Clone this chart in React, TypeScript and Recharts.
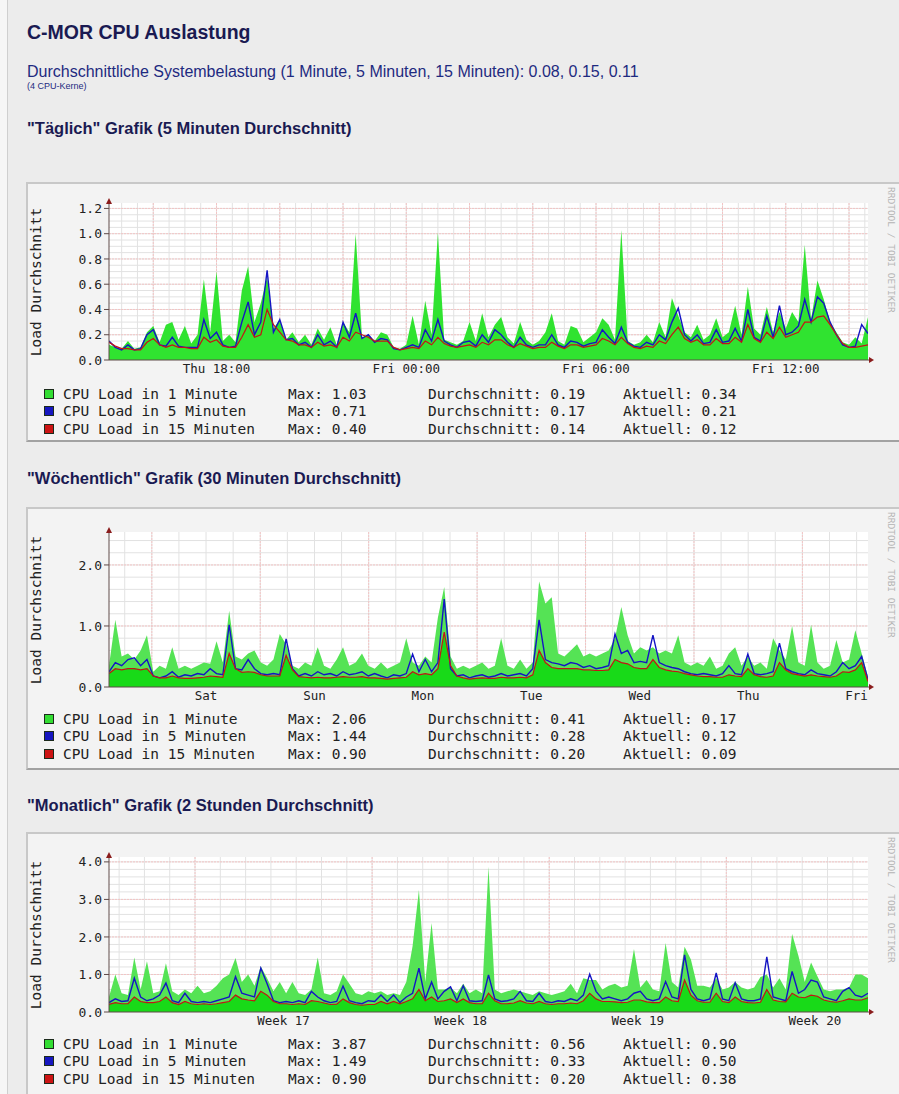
import React from "react"
import { ComposedChart, Area, Line, XAxis, YAxis, CartesianGrid, ReferenceDot } from "recharts"

const mono = '"DejaVu Sans Mono", monospace'
const sans = '"Liberation Sans", Arial, sans-serif'

const seriesNames = ["CPU Load in 1 Minute", "CPU Load in 5 Minuten", "CPU Load in 15 Minuten"]
const seriesColors = ["#33dd33", "#1616c0", "#cc1414"]

// Täglich: Stunden ab Do 00:00, 12-Minuten-Schritte
const dayStart = 14.6
const dayStep = 0.2
const dayLoad1 = [
  0.12, 0.10, 0.09, 0.15, 0.09, 0.10, 0.22, 0.27, 0.14, 0.28,
  0.30, 0.16, 0.27, 0.13, 0.20, 0.64, 0.22, 0.70, 0.15, 0.20,
  0.14, 0.55, 0.74, 0.30, 0.45, 0.66, 0.25, 0.32, 0.16, 0.22,
  0.14, 0.20, 0.12, 0.25, 0.16, 0.26, 0.12, 0.30, 0.22, 1.00,
  0.18, 0.20, 0.15, 0.22, 0.20, 0.10, 0.09, 0.12, 0.35, 0.12,
  0.47, 0.20, 1.01, 0.16, 0.14, 0.12, 0.15, 0.30, 0.15, 0.37,
  0.18, 0.28, 0.34, 0.18, 0.13, 0.30, 0.16, 0.12, 0.15, 0.22,
  0.37, 0.15, 0.12, 0.27, 0.25, 0.14, 0.18, 0.22, 0.33, 0.28,
  0.16, 1.03, 0.15, 0.12, 0.14, 0.20, 0.14, 0.30, 0.18, 0.49,
  0.35, 0.22, 0.18, 0.28, 0.16, 0.20, 0.33, 0.18, 0.22, 0.43,
  0.20, 0.58, 0.25, 0.20, 0.42, 0.22, 0.38, 0.25, 0.38, 0.30,
  0.91, 0.32, 0.63, 0.48, 0.30, 0.22, 0.14, 0.12, 0.18, 0.13,
  0.34,
]
const dayLoad5 = [
  0.15, 0.10, 0.08, 0.12, 0.08, 0.09, 0.20, 0.24, 0.12, 0.11,
  0.18, 0.11, 0.10, 0.10, 0.10, 0.32, 0.17, 0.22, 0.12, 0.10,
  0.11, 0.30, 0.46, 0.20, 0.30, 0.71, 0.22, 0.32, 0.16, 0.17,
  0.12, 0.14, 0.10, 0.20, 0.12, 0.15, 0.10, 0.30, 0.18, 0.37,
  0.17, 0.20, 0.14, 0.17, 0.16, 0.09, 0.08, 0.10, 0.12, 0.10,
  0.24, 0.15, 0.32, 0.15, 0.12, 0.10, 0.14, 0.15, 0.11, 0.20,
  0.14, 0.24, 0.20, 0.14, 0.10, 0.18, 0.12, 0.10, 0.12, 0.12,
  0.20, 0.12, 0.10, 0.15, 0.14, 0.11, 0.13, 0.14, 0.24, 0.18,
  0.13, 0.26, 0.14, 0.11, 0.10, 0.14, 0.12, 0.20, 0.16, 0.30,
  0.41, 0.20, 0.15, 0.20, 0.13, 0.14, 0.24, 0.14, 0.15, 0.25,
  0.15, 0.40, 0.18, 0.15, 0.35, 0.18, 0.43, 0.20, 0.22, 0.27,
  0.48, 0.30, 0.50, 0.45, 0.30, 0.20, 0.12, 0.10, 0.11, 0.28,
  0.21,
]
const dayLoad15 = [
  0.14, 0.11, 0.09, 0.09, 0.08, 0.08, 0.14, 0.17, 0.12, 0.10,
  0.12, 0.10, 0.10, 0.09, 0.09, 0.18, 0.14, 0.16, 0.11, 0.10,
  0.10, 0.18, 0.28, 0.18, 0.20, 0.40, 0.28, 0.22, 0.16, 0.15,
  0.12, 0.12, 0.10, 0.14, 0.11, 0.12, 0.10, 0.18, 0.15, 0.22,
  0.20, 0.18, 0.15, 0.15, 0.15, 0.10, 0.08, 0.09, 0.10, 0.09,
  0.15, 0.12, 0.18, 0.13, 0.11, 0.10, 0.11, 0.12, 0.10, 0.14,
  0.12, 0.16, 0.16, 0.12, 0.10, 0.13, 0.11, 0.09, 0.10, 0.10,
  0.14, 0.11, 0.09, 0.12, 0.12, 0.10, 0.11, 0.12, 0.17, 0.15,
  0.12, 0.18, 0.13, 0.10, 0.09, 0.11, 0.10, 0.15, 0.13, 0.20,
  0.26, 0.17, 0.14, 0.16, 0.12, 0.12, 0.17, 0.13, 0.13, 0.18,
  0.14, 0.28, 0.17, 0.14, 0.22, 0.17, 0.26, 0.18, 0.20, 0.22,
  0.30, 0.30, 0.34, 0.35, 0.28, 0.20, 0.13, 0.10, 0.10, 0.11,
  0.12,
]
const dayTicks = [18, 24, 30, 36]
const dayTickLabels = ["Thu 18:00", "Fri 00:00", "Fri 06:00", "Fri 12:00"]
const dayYTicks = [0, 0.2, 0.4, 0.6, 0.8, 1.0, 1.2]
const dayMax = ["1.03", "0.71", "0.40"]
const dayAvg = ["0.19", "0.17", "0.14"]
const dayNow = ["0.34", "0.21", "0.12"]

// Wöchentlich: Tage ab Sa 00:00, 84-Minuten-Schritte
const weekStart = -0.395
const weekStep = 7 / 120
const weekLoad1 = [
  0.35, 1.10, 0.50, 0.55, 0.45, 0.60, 0.85, 0.25, 0.35, 0.30,
  0.65, 0.30, 0.35, 0.30, 0.35, 0.40, 0.38, 0.75, 0.40, 1.25,
  0.50, 0.45, 0.55, 0.60, 0.40, 0.35, 0.45, 0.87, 0.70, 0.35,
  0.30, 0.40, 0.35, 0.65, 0.35, 0.30, 0.45, 0.65, 0.35, 0.40,
  0.55, 0.35, 0.30, 0.40, 0.30, 0.35, 0.40, 0.80, 0.40, 0.35,
  0.50, 0.40, 1.14, 1.64, 0.50, 0.30, 0.35, 0.30, 0.35, 0.40,
  0.30, 0.35, 0.80, 0.35, 0.30, 0.45, 0.30, 0.40, 1.73, 1.37,
  1.47, 0.55, 0.50, 0.60, 0.70, 0.50, 0.55, 0.50, 0.55, 0.60,
  0.80, 1.31, 0.85, 0.55, 0.65, 0.60, 0.65, 0.55, 0.60, 0.55,
  0.85, 0.40, 0.35, 0.40, 0.35, 0.50, 0.30, 0.35, 0.55, 0.65,
  0.35, 0.50, 0.35, 0.40, 0.30, 0.80, 0.60, 0.45, 1.00, 0.40,
  0.35, 1.02, 0.40, 0.30, 0.35, 0.77, 0.40, 0.45, 0.93, 0.55,
  0.17,
]
const weekLoad5 = [
  0.25, 0.40, 0.35, 0.45, 0.48, 0.35, 0.45, 0.18, 0.15, 0.18,
  0.25, 0.16, 0.20, 0.18, 0.22, 0.20, 0.30, 0.22, 0.20, 1.02,
  0.30, 0.28, 0.45, 0.30, 0.22, 0.20, 0.22, 0.20, 0.79, 0.30,
  0.18, 0.22, 0.18, 0.25, 0.20, 0.22, 0.18, 0.25, 0.20, 0.22,
  0.25, 0.18, 0.22, 0.18, 0.15, 0.20, 0.18, 0.22, 0.54, 0.25,
  0.45, 0.25, 0.40, 1.44, 0.30, 0.18, 0.20, 0.15, 0.18, 0.20,
  0.16, 0.18, 0.22, 0.18, 0.20, 0.22, 0.18, 0.30, 1.10, 0.45,
  0.40, 0.38, 0.35, 0.40, 0.38, 0.32, 0.35, 0.30, 0.32, 0.35,
  0.87, 0.55, 0.60, 0.40, 0.42, 0.40, 0.85, 0.40, 0.35, 0.32,
  0.30, 0.25, 0.22, 0.20, 0.22, 0.20, 0.18, 0.22, 0.35, 0.22,
  0.20, 0.54, 0.22, 0.20, 0.22, 0.25, 0.72, 0.30, 0.25, 0.22,
  0.20, 0.28, 0.22, 0.20, 0.18, 0.25, 0.40, 0.30, 0.35, 0.50,
  0.12,
]
const weekLoad15 = [
  0.22, 0.30, 0.28, 0.30, 0.30, 0.28, 0.30, 0.18, 0.15, 0.15,
  0.18, 0.15, 0.14, 0.14, 0.15, 0.16, 0.18, 0.17, 0.16, 0.55,
  0.30, 0.24, 0.25, 0.24, 0.20, 0.18, 0.18, 0.18, 0.52, 0.28,
  0.17, 0.16, 0.15, 0.16, 0.15, 0.15, 0.16, 0.17, 0.16, 0.16,
  0.17, 0.15, 0.15, 0.14, 0.13, 0.14, 0.15, 0.16, 0.25, 0.20,
  0.22, 0.20, 0.30, 0.90, 0.35, 0.18, 0.15, 0.13, 0.14, 0.15,
  0.14, 0.14, 0.16, 0.15, 0.15, 0.16, 0.15, 0.20, 0.60, 0.40,
  0.32, 0.30, 0.30, 0.30, 0.30, 0.28, 0.28, 0.27, 0.27, 0.28,
  0.45, 0.40, 0.38, 0.32, 0.30, 0.30, 0.45, 0.32, 0.28, 0.26,
  0.25, 0.22, 0.20, 0.18, 0.17, 0.17, 0.16, 0.16, 0.20, 0.18,
  0.17, 0.30, 0.20, 0.17, 0.16, 0.18, 0.40, 0.28, 0.22, 0.20,
  0.18, 0.20, 0.18, 0.17, 0.16, 0.18, 0.25, 0.24, 0.28, 0.40,
  0.09,
]
const weekTicks = [0.5, 1.5, 2.5, 3.5, 4.5, 5.5, 6.5]
const weekTickLabels = ["Sat", "Sun", "Mon", "Tue", "Wed", "Thu", "Fri"]
const weekYTicks = [0, 1, 2]
const weekMax = ["2.06", "1.44", "0.90"]
const weekAvg = ["0.41", "0.28", "0.20"]
const weekNow = ["0.17", "0.12", "0.09"]

// Monatlich: Tage ab Montag Woche 17, 6-Stunden-Schritte
const monthStart = -3.4
const monthStep = 0.25
const monthLoad1 = [
  0.40, 1.00, 0.50, 0.45, 1.45, 0.60, 1.35, 0.50, 0.55, 1.30,
  0.55, 0.45, 0.60, 0.50, 0.70, 0.50, 0.55, 0.70, 0.90, 1.00,
  1.44, 0.80, 1.00, 0.70, 1.21, 0.90, 0.55, 0.80, 0.50, 0.80,
  0.50, 0.45, 0.60, 1.45, 0.50, 0.45, 0.55, 1.00, 0.75, 0.50,
  0.45, 0.55, 0.50, 0.55, 0.45, 0.50, 0.45, 0.80, 1.76, 3.25,
  0.80, 2.37, 0.60, 0.60, 0.65, 0.50, 0.75, 0.50, 0.60, 0.50,
  3.87, 0.60, 0.50, 0.55, 0.60, 0.55, 0.50, 0.45, 0.55, 0.50,
  0.45, 0.50, 0.55, 0.75, 0.50, 0.90, 0.85, 0.85, 0.60, 0.70,
  0.75, 0.65, 0.70, 1.68, 0.65, 0.85, 0.60, 0.55, 1.84, 0.80,
  0.65, 1.74, 1.40, 0.70, 0.70, 0.65, 0.90, 0.60, 0.65, 0.80,
  0.65, 0.60, 0.65, 0.93, 1.00, 0.65, 0.90, 0.60, 2.08, 1.50,
  0.80, 1.32, 0.95, 0.60, 0.55, 0.60, 0.60, 0.65, 1.00, 1.00,
  0.90,
]
const monthLoad5 = [
  0.25, 0.35, 0.28, 0.30, 0.90, 0.40, 0.30, 0.35, 0.45, 0.77,
  0.30, 0.25, 0.50, 0.28, 0.25, 0.28, 0.25, 0.30, 0.35, 0.40,
  0.94, 0.50, 0.45, 0.40, 1.17, 0.75, 0.30, 0.25, 0.28, 0.25,
  0.30, 0.25, 0.55, 0.40, 0.30, 0.25, 0.28, 0.69, 0.30, 0.25,
  0.22, 0.30, 0.28, 0.45, 0.28, 0.45, 0.25, 0.40, 0.50, 1.17,
  0.35, 0.80, 0.35, 0.55, 0.67, 0.30, 0.70, 0.30, 0.28, 0.30,
  0.99, 0.35, 0.28, 0.30, 0.35, 0.55, 0.30, 0.28, 0.50, 0.28,
  0.25, 0.30, 0.28, 0.35, 0.30, 0.45, 1.01, 0.55, 0.35, 0.40,
  0.35, 0.30, 0.35, 0.50, 0.55, 0.35, 0.30, 0.35, 0.81, 0.40,
  0.35, 1.52, 0.60, 0.35, 0.30, 0.35, 1.04, 0.35, 0.30, 0.78,
  0.35, 0.30, 0.30, 0.35, 1.47, 0.40, 0.35, 0.30, 1.08, 0.50,
  0.60, 0.85, 0.80, 0.40, 0.35, 0.30, 0.55, 0.65, 0.45, 0.40,
  0.50,
]
const monthLoad15 = [
  0.20, 0.25, 0.22, 0.22, 0.40, 0.28, 0.25, 0.25, 0.28, 0.40,
  0.25, 0.20, 0.28, 0.22, 0.20, 0.22, 0.20, 0.22, 0.25, 0.28,
  0.45, 0.35, 0.32, 0.30, 0.55, 0.45, 0.28, 0.22, 0.22, 0.20,
  0.22, 0.20, 0.30, 0.28, 0.24, 0.20, 0.21, 0.35, 0.25, 0.20,
  0.18, 0.20, 0.20, 0.28, 0.22, 0.28, 0.22, 0.28, 0.35, 0.60,
  0.30, 0.40, 0.28, 0.30, 0.35, 0.25, 0.35, 0.25, 0.22, 0.22,
  0.50, 0.30, 0.22, 0.22, 0.24, 0.30, 0.24, 0.22, 0.28, 0.22,
  0.20, 0.22, 0.22, 0.24, 0.22, 0.30, 0.50, 0.35, 0.28, 0.28,
  0.27, 0.25, 0.26, 0.32, 0.32, 0.27, 0.25, 0.25, 0.40, 0.30,
  0.28, 0.85, 0.45, 0.30, 0.26, 0.26, 0.50, 0.28, 0.25, 0.40,
  0.28, 0.25, 0.24, 0.26, 0.60, 0.32, 0.28, 0.27, 0.50, 0.40,
  0.38, 0.45, 0.42, 0.32, 0.28, 0.26, 0.30, 0.35, 0.32, 0.32,
  0.38,
]
const monthTicks = [3.5, 10.5, 17.5, 24.5]
const monthTickLabels = ["Week 17", "Week 18", "Week 19", "Week 20"]
const monthYTicks = [0, 1, 2, 3, 4]
const monthMax = ["3.87", "1.49", "0.90"]
const monthAvg = ["0.56", "0.33", "0.20"]
const monthNow = ["0.90", "0.50", "0.38"]

const axisColor = "#5e4a48"
const arrowColor = "#8a1c1c"

function range(from: number, to: number, step: number) {
  const out: number[] = []
  for (let i = 0; from + i * step <= to + 1e-9; i++) out.push(Math.round((from + i * step) * 1000) / 1000)
  return out
}

const upArrow = (p: any) => (
  <path d={`M${p.cx - 3},${p.cy + 1}L${p.cx},${p.cy - 5}L${p.cx + 3},${p.cy + 1}Z`} fill={arrowColor} />
)
const rightArrow = (p: any) => (
  <g>
    <line x1={p.cx} y1={p.cy} x2={p.cx + 3} y2={p.cy} stroke={axisColor} />
    <path d={`M${p.cx + 1},${p.cy - 3}L${p.cx + 6},${p.cy}L${p.cx + 1},${p.cy + 3}Z`} fill={arrowColor} />
  </g>
)

type PanelProps = {
  top: number
  height: number
  plotTop: number
  plotHeight: number
  start: number
  step: number
  load1: number[]
  load5: number[]
  load15: number[]
  yMax: number
  yTicks: number[]
  xTicks: number[]
  xLabels: string[]
  minorX: number[]
  majorX: number[]
  minorY: number[]
  majorY: number[]
  maxes: string[]
  avgs: string[]
  nows: string[]
  twoTone?: boolean
}

function RrdPanel(props: PanelProps) {
  const { top, height, plotTop, plotHeight, start, step, load1, load5, load15, yMax } = props
  const rows = load1.map((v, i) => ({ t: start + i * step, l1: v, l5: load5[i], l15: load15[i] }))
  const end = start + (load1.length - 1) * step
  const marginTop = plotTop - (top + 2)
  const chartH = marginTop + plotHeight + 24
  const plotMid = marginTop + plotHeight / 2

  return (
    <div
      style={{
        position: "absolute",
        left: 26,
        top,
        width: 900,
        height,
        boxSizing: "border-box",
        border: "2px solid #c8c8c8",
        borderBottomColor: "#a2a2a2",
        background: "#f3f3f3",
      }}
    >
      <div style={{ position: "absolute", left: 0, top: 0 }}>
        <ComposedChart width={860} height={chartH} data={rows} margin={{ top: marginTop, right: 20, bottom: 0, left: 0 }}>
          <CartesianGrid horizontalValues={props.minorY} verticalValues={props.minorX} stroke="#e2e2e2" fill="#ffffff" fillOpacity={1} />
          <CartesianGrid horizontalValues={props.majorY} verticalValues={props.majorX} stroke="#f3c4c4" strokeDasharray="2 1" />
          <XAxis
            dataKey="t"
            type="number"
            domain={[start, end]}
            allowDataOverflow
            ticks={props.xTicks}
            interval={0}
            tickFormatter={(v, i) => props.xLabels[i]}
            tickLine={false}
            tickSize={0}
            tickMargin={4}
            height={24}
            stroke={axisColor}
            tick={{ fill: "#222", fontSize: 12.5, fontFamily: mono }}
          />
          <YAxis
            type="number"
            domain={[0, yMax]}
            allowDataOverflow
            ticks={props.yTicks}
            interval={0}
            tickFormatter={(v) => v.toFixed(1)}
            width={81}
            tickSize={5}
            tickMargin={2}
            stroke={axisColor}
            tick={{ fill: "#222", fontSize: 13, fontFamily: mono }}
          />
          <Area dataKey="l1" type="linear" stroke="none" fill={props.twoTone ? "#55e355" : "#30e330"} fillOpacity={1} isAnimationActive={false} activeDot={false} />
          {props.twoTone && (
            <Area dataKey="l15" type="linear" stroke="none" fill="#18da18" fillOpacity={1} isAnimationActive={false} activeDot={false} />
          )}
          <Line dataKey="l5" type="linear" stroke="#1414c4" strokeWidth={1.4} dot={false} activeDot={false} isAnimationActive={false} />
          <Line dataKey="l15" type="linear" stroke="#c41414" strokeWidth={1.2} dot={false} activeDot={false} isAnimationActive={false} />
          <ReferenceDot x={start} y={yMax} shape={upArrow} ifOverflow="visible" />
          <ReferenceDot x={end} y={0} shape={rightArrow} ifOverflow="visible" />
        </ComposedChart>
      </div>

      <div
        style={{
          position: "absolute",
          left: -90,
          top: plotMid - 10,
          width: 200,
          height: 20,
          lineHeight: "20px",
          textAlign: "center",
          transform: "rotate(-90deg)",
          font: `14.5px ${mono}`,
          color: "#222",
        }}
      >
        Load Durchschnitt
      </div>

      <div
        style={{
          position: "absolute",
          left: 858,
          top: 3,
          writingMode: "vertical-rl",
          lineHeight: "11px",
          font: `9.5px ${mono}`,
          color: "#b4b4b4",
          whiteSpace: "nowrap",
        }}
      >
        RRDTOOL / TOBI OETIKER
      </div>

      {seriesNames.map((name, k) => (
        <div key={name} style={{ position: "absolute", left: 0, top: 200.5 + k * 17.5, height: 18, width: 860, font: `14.5px ${mono}`, color: "#222", lineHeight: "18px" }}>
          <div style={{ position: "absolute", left: 16, top: 4, width: 8, height: 8, background: seriesColors[k], border: "1px solid #1c2a1c" }} />
          <span style={{ position: "absolute", left: 35, whiteSpace: "pre" }}>{name}</span>
          <span style={{ position: "absolute", left: 260, whiteSpace: "pre" }}>{"Max: " + props.maxes[k]}</span>
          <span style={{ position: "absolute", left: 400, whiteSpace: "pre" }}>{"Durchschnitt: " + props.avgs[k]}</span>
          <span style={{ position: "absolute", left: 595, whiteSpace: "pre" }}>{"Aktuell: " + props.nows[k]}</span>
        </div>
      ))}
    </div>
  )
}

const headStyle: React.CSSProperties = {
  position: "absolute",
  left: 27,
  font: `bold 16.5px ${sans}`,
  color: "#1a1a52",
  lineHeight: "18px",
  whiteSpace: "nowrap",
}

export default function App() {
  return (
    <div style={{ position: "relative", width: 899, height: 1094, overflow: "hidden", background: "#ececec", fontFamily: sans }}>
      <style>{`body{margin:0}`}</style>
      <div style={{ position: "absolute", left: 0, top: 0, width: 7, height: 1094, background: "#f6f6f6", borderRight: "1px solid #cfcfcf" }} />

      <div style={{ ...headStyle, top: 21, font: `bold 19.5px ${sans}`, lineHeight: "22px" }}>C-MOR CPU Auslastung</div>
      <div style={{ position: "absolute", left: 27, top: 63, font: `16px ${sans}`, color: "#1e2a80", lineHeight: "18px", whiteSpace: "nowrap" }}>
        Durchschnittliche Systembelastung (1 Minute, 5 Minuten, 15 Minuten): 0.08, 0.15, 0.11
      </div>
      <div style={{ position: "absolute", left: 27, top: 81, font: `9px ${sans}`, color: "#1e2a80", lineHeight: "11px" }}>(4 CPU-Kerne)</div>

      <div style={{ ...headStyle, top: 119 }}>"Täglich" Grafik (5 Minuten Durchschnitt)</div>
      <RrdPanel
        top={182}
        height={260}
        plotTop={203}
        plotHeight={157}
        start={dayStart}
        step={dayStep}
        load1={dayLoad1}
        load5={dayLoad5}
        load15={dayLoad15}
        yMax={1.243}
        yTicks={dayYTicks}
        xTicks={dayTicks}
        xLabels={dayTickLabels}
        minorX={range(15, 38.5, 0.5)}
        majorX={range(16, 38, 2)}
        minorY={range(0.05, 1.2, 0.05)}
        majorY={range(0.2, 1.2, 0.2)}
        maxes={dayMax}
        avgs={dayAvg}
        nows={dayNow}
      />

      <div style={{ ...headStyle, top: 469 }}>"Wöchentlich" Grafik (30 Minuten Durchschnitt)</div>
      <RrdPanel
        top={507}
        height={263}
        plotTop={532}
        plotHeight={155}
        start={weekStart}
        step={weekStep}
        load1={weekLoad1}
        load5={weekLoad5}
        load15={weekLoad15}
        yMax={2.54}
        yTicks={weekYTicks}
        xTicks={weekTicks}
        xLabels={weekTickLabels}
        minorX={range(-0.25, 6.5, 0.25)}
        majorX={range(0, 6, 1)}
        minorY={range(0.2, 2.4, 0.2)}
        majorY={[1, 2]}
        maxes={weekMax}
        avgs={weekAvg}
        nows={weekNow}
        twoTone
      />

      <div style={{ ...headStyle, top: 796 }}>"Monatlich" Grafik (2 Stunden Durchschnitt)</div>
      <RrdPanel
        top={832}
        height={264}
        plotTop={857}
        plotHeight={155}
        start={monthStart}
        step={monthStep}
        load1={monthLoad1}
        load5={monthLoad5}
        load15={monthLoad15}
        yMax={4.13}
        yTicks={monthYTicks}
        xTicks={monthTicks}
        xLabels={monthTickLabels}
        minorX={range(-3, 26, 1)}
        majorX={[0, 7, 14, 21]}
        minorY={range(0.2, 4.0, 0.2)}
        majorY={[1, 2, 3, 4]}
        maxes={monthMax}
        avgs={monthAvg}
        nows={monthNow}
        twoTone
      />
    </div>
  )
}
